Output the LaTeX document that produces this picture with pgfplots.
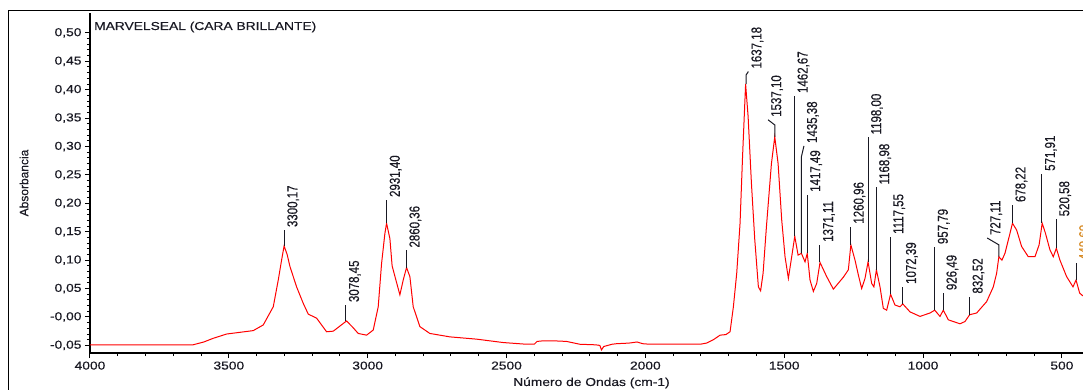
\documentclass[border=0pt]{standalone}
\usepackage{pgfplots}
\pgfplotsset{compat=1.18}
\usepackage{fontspec}
\setmainfont{Liberation Sans}[FakeStretch=1.2, FakeBold=0.35]
\newfontfamily\rotfont{Liberation Sans}[FakeBold=0.35]
\definecolor{spec}{RGB}{255,0,0}
\definecolor{lbl}{RGB}{25,25,35}
\definecolor{orng}{RGB}{215,140,40}
\newcommand{\pk}[1]{\scalebox{1}[1.25]{\rotfont\fontsize{11.5bp}{12bp}\selectfont #1}}
\newcommand{\peak}[4]{\draw[lbl, line width=1bp] (axis cs:#1,#2) -- (axis cs:#1,#3) node[rotate=90, anchor=north west, inner sep=2.5bp, text=lbl] {\pk{#4}};}
\begin{document}
\begin{tikzpicture}
\useasboundingbox (0,0) rectangle (1083bp,390bp);
\draw[line width=1.3bp] (8.5bp,-5bp) -- (8.5bp,379.5bp) -- (1090bp,379.5bp);
\begin{axis}[
  at={(90bp,37bp)}, anchor=south west, scale only axis,
  width=993bp, height=340bp,
  x dir=reverse, xmin=424, xmax=4000, ymin=-0.0634, ymax=0.535,
  axis x line=bottom, axis y line=left,
  axis line style={-, line width=1.6bp, black},
  xtick={500,1000,1500,2000,2500,3000,3500,4000},
  xticklabels={500,1000,1500,2000,2500,3000,3500,4000},
  ytick={-0.05,0,0.05,0.1,0.15,0.2,0.25,0.3,0.35,0.4,0.45,0.5},
  yticklabels={{-0,05},{-0,00},{0,05},{0,10},{0,15},{0,20},{0,25},{0,30},{0,35},{0,40},{0,45},{0,50}},
  minor x tick num=4, minor y tick num=4,
  tick align=outside, major tick length=5bp, minor tick length=3bp,
  every tick/.style={black, line width=1bp},
  tick label style={font=\fontsize{11.5bp}{12bp}\selectfont, text=lbl},
  xlabel={Número de Ondas (cm-1)},
  xlabel style={font=\fontsize{11.5bp}{12bp}\selectfont, text=lbl, at={(axis description cs:0.505,-0.088)}, anchor=center},
  ylabel={Absorbancia},
  ylabel style={font=\rotfont\fontsize{12bp}{13bp}\selectfont, text=lbl, at={(axis description cs:-0.0665,0.5)}, anchor=center},
  clip=false,
]
\addplot[spec, line width=1bp] table[row sep=\\] {
x y\\
4000 -0.049\\ 3900 -0.049\\ 3800 -0.049\\ 3700 -0.049\\ 3629 -0.049\\ 3590 -0.044\\
3556 -0.0375\\ 3508 -0.030\\ 3460 -0.027\\ 3412 -0.024\\ 3376 -0.014\\ 3340 0.018\\
3322 0.065\\ 3310 0.100\\ 3301 0.125\\ 3290 0.110\\ 3280 0.089\\ 3256 0.053\\
3232 0.024\\ 3214 0.005\\ 3184 -0.002\\ 3148 -0.026\\ 3124 -0.025\\ 3100 -0.016\\
3076 -0.007\\ 3054 -0.018\\ 3034 -0.029\\ 3004 -0.032\\ 2980 -0.023\\ 2962 0.018\\
2950 0.094\\ 2938 0.147\\ 2932 0.165\\ 2920 0.138\\ 2912 0.090\\ 2900 0.068\\
2884 0.039\\ 2872 0.065\\ 2860 0.087\\ 2848 0.071\\ 2836 0.018\\ 2812 -0.017\\
2776 -0.029\\ 2704 -0.035\\ 2608 -0.039\\ 2512 -0.045\\ 2428 -0.048\\ 2400 -0.048\\
2390 -0.043\\ 2368 -0.042\\ 2330 -0.042\\ 2284 -0.043\\ 2236 -0.048\\ 2180 -0.049\\
2164 -0.050\\ 2158 -0.058\\ 2150 -0.052\\ 2120 -0.048\\ 2103 -0.047\\ 2060 -0.046\\
2044 -0.045\\ 2030 -0.044\\ 2010 -0.047\\ 1984 -0.048\\ 1900 -0.048\\ 1803 -0.048\\
1780 -0.046\\ 1755 -0.040\\ 1731 -0.032\\ 1710 -0.031\\ 1695 -0.026\\ 1683 0.018\\
1671 0.077\\ 1659 0.165\\ 1650 0.282\\ 1639 0.410\\ 1630 0.353\\ 1618 0.235\\
1606 0.136\\ 1593 0.053\\ 1585 0.046\\ 1576 0.077\\ 1564 0.159\\ 1546 0.270\\
1534 0.317\\ 1522 0.270\\ 1509 0.171\\ 1497 0.106\\ 1485 0.068\\ 1473 0.106\\
1462 0.142\\ 1450 0.109\\ 1438 0.112\\ 1425 0.097\\ 1417 0.112\\ 1407 0.065\\
1395 0.045\\ 1383 0.059\\ 1371 0.096\\ 1347 0.071\\ 1323 0.049\\ 1287 0.070\\
1269 0.083\\ 1260 0.127\\ 1245 0.100\\ 1233 0.074\\ 1221 0.050\\ 1209 0.068\\
1198 0.097\\ 1185 0.059\\ 1177 0.053\\ 1168 0.083\\ 1155 0.053\\ 1143 0.015\\
1131 0.012\\ 1117 0.040\\ 1101 0.021\\ 1083 0.018\\ 1073 0.023\\ 1047 0.009\\
1011 0.001\\ 975 0.007\\ 958 0.012\\ 939 0.001\\ 927 0.012\\ 909 -0.005\\
867 -0.012\\ 849 -0.008\\ 832 0.004\\ 807 0.007\\ 771 0.027\\ 747 0.053\\
735 0.077\\ 727 0.106\\ 716 0.100\\ 705 0.112\\ 687 0.147\\ 678 0.165\\
663 0.153\\ 645 0.124\\ 621 0.106\\ 597 0.106\\ 582 0.127\\ 571 0.165\\
559 0.147\\ 543 0.118\\ 531 0.106\\ 520 0.121\\ 507 0.100\\ 483 0.071\\
460 0.053\\ 449 0.065\\ 436 0.042\\ 424 0.037\\
};
\node[anchor=base west, inner sep=0pt, text=lbl, font=\fontsize{11.5bp}{12bp}\selectfont] at (axis description cs:0.004,0.95) {MARVELSEAL (CARA BRILLANTE)};
\peak{3300.17}{0.125}{0.153}{3300,17}
\peak{3078.45}{-0.007}{0.021}{3078,45}
\peak{2931.40}{0.165}{0.206}{2931,40}
\peak{2860.36}{0.087}{0.117}{2860,36}
\draw[lbl, line width=1bp] (axis cs:1637.18,0.41) -- (axis cs:1637.18,0.426) -- (axis cs:1629,0.432) node[rotate=90, anchor=north west, inner sep=2.5bp, text=lbl] {\pk{1637,18}};
\draw[lbl, line width=1bp] (axis cs:1534,0.317) -- (axis cs:1534,0.338) -- (axis cs:1558,0.347) node[rotate=90, anchor=north west, inner sep=2.5bp, text=lbl] {\pk{1537,10}};
\peak{1462.67}{0.142}{0.389}{1462,67}
\draw[lbl, line width=1bp] (axis cs:1438,0.112) -- (axis cs:1438,0.282) -- (axis cs:1429,0.301) node[rotate=90, anchor=north west, inner sep=2.5bp, text=lbl] {\pk{1435,38}};
\peak{1417.49}{0.112}{0.215}{1417,49}
\peak{1371.11}{0.096}{0.127}{1371,11}
\peak{1260.96}{0.127}{0.159}{1260,96}
\peak{1198.00}{0.097}{0.316}{1198,00}
\peak{1168.98}{0.083}{0.228}{1168,98}
\peak{1117.55}{0.040}{0.141}{1117,55}
\peak{1072.39}{0.023}{0.053}{1072,39}
\peak{957.79}{0.012}{0.123}{957,79}
\peak{926.49}{0.012}{0.042}{926,49}
\peak{832.52}{0.004}{0.036}{832,52}
\draw[lbl, line width=1bp] (axis cs:727.11,0.106) -- (axis cs:727.11,0.127) -- (axis cs:769,0.139) node[rotate=90, anchor=north west, inner sep=2.5bp, text=lbl] {\pk{727,11}};
\peak{678.22}{0.165}{0.197}{678,22}
\peak{571.91}{0.165}{0.252}{571,91}
\peak{520.58}{0.121}{0.172}{520,58}
\draw[lbl, line width=1bp] (axis cs:449,0.065) -- (axis cs:449,0.095) node[rotate=90, anchor=north west, inner sep=2.5bp, text=orng] {\pk{449,60}};
\end{axis}
\end{tikzpicture}
\end{document}
